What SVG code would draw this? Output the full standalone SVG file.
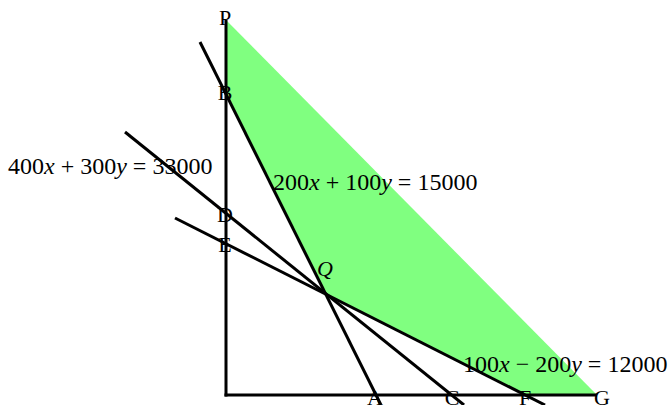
<svg xmlns="http://www.w3.org/2000/svg" width="669" height="405" viewBox="0 0 669 405">
<style>
.ln{stroke:#000;stroke-width:3;fill:none;stroke-linecap:butt}
.lbl{font-family:"Liberation Serif","Times New Roman",serif;font-size:22px;fill:#000;text-anchor:middle}
.eq{font-family:"Liberation Serif","Times New Roman",serif;font-size:24px;fill:#000}
.it{font-style:italic}
</style>
<rect width="669" height="405" fill="#fff"/>
<g id="region">
<polygon points="226,20 597,395 525,395 325,293 226,92" fill="#80ff80"/>
</g>
<g id="connectors">
<line id="axis-y" class="ln" x1="226" y1="20" x2="226" y2="396.5"/>
<line id="axis-x" class="ln" x1="224.5" y1="395" x2="597" y2="395"/>
<line id="line1" class="ln" x1="200" y1="42" x2="381" y2="405"/>
<line id="line2" class="ln" x1="125" y1="132" x2="464" y2="405"/>
<line id="line3" class="ln" x1="175" y1="218" x2="545" y2="405"/>
</g>
<g id="node-P"><text class="lbl" x="225" y="25">P</text></g>
<g id="node-B"><text class="lbl" x="225" y="100">B</text></g>
<g id="node-D"><text class="lbl" x="225" y="222">D</text></g>
<g id="node-E"><text class="lbl" x="225" y="252">E</text></g>
<g id="node-Q"><text class="lbl it" x="325" y="276">Q</text></g>
<g id="node-A"><text class="lbl" x="375" y="405">A</text></g>
<g id="node-C"><text class="lbl" x="452" y="405">C</text></g>
<g id="node-F"><text class="lbl" x="525" y="405">F</text></g>
<g id="node-G"><text class="lbl" x="602" y="405">G</text></g>
<g id="eq1"><text class="eq" x="8" y="174">400<tspan class="it">x</tspan> + 300<tspan class="it">y</tspan> = 33000</text></g>
<g id="eq2"><text class="eq" x="273" y="190">200<tspan class="it">x</tspan> + 100<tspan class="it">y</tspan> = 15000</text></g>
<g id="eq3"><text class="eq" x="463" y="372">100<tspan class="it">x</tspan> − 200<tspan class="it">y</tspan> = 12000</text></g>
</svg>
